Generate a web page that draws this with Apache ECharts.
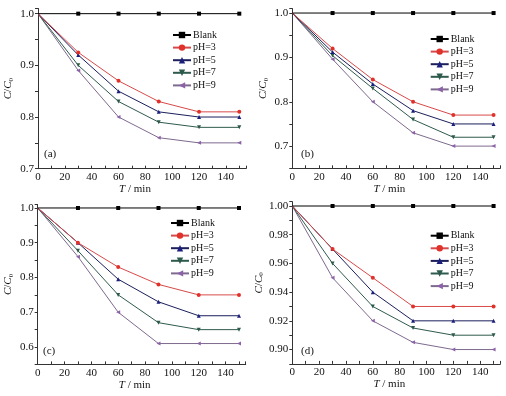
<!DOCTYPE html>
<html>
<head>
<meta charset="utf-8">
<script src="https://cdn.jsdelivr.net/npm/echarts@6/dist/echarts.min.js"></script>
<style>
html, body { margin: 0; padding: 0; background: #fff; }
#chart { width: 506px; height: 396px; }
</style>
</head>
<body>
<div id="chart"></div>
<script>
// time points (min)
var times = [0, 30, 60, 90, 120, 150];
var seriesNames = ['Blank', 'pH=3', 'pH=5', 'pH=7', 'pH=9'];
var panelLabels = ['(a)', '(b)', '(c)', '(d)'];

// C/C0 values, one array per series and panel
var blankA = [1.0, 1.0, 1.0, 1.0, 1.0, 1.0];
var ph3A = [1.0, 0.925, 0.87, 0.83, 0.81, 0.81];
var ph5A = [1.0, 0.92, 0.85, 0.81, 0.80, 0.80];
var ph7A = [1.0, 0.90, 0.83, 0.79, 0.78, 0.78];
var ph9A = [1.0, 0.89, 0.80, 0.76, 0.75, 0.75];

var blankB = [1.0, 1.0, 1.0, 1.0, 1.0, 1.0];
var ph3B = [1.0, 0.92, 0.85, 0.80, 0.77, 0.77];
var ph5B = [1.0, 0.912, 0.84, 0.78, 0.75, 0.75];
var ph7B = [1.0, 0.904, 0.83, 0.76, 0.72, 0.72];
var ph9B = [1.0, 0.896, 0.80, 0.73, 0.70, 0.70];

var blankC = [1.0, 1.0, 1.0, 1.0, 1.0, 1.0];
var ph3C = [1.0, 0.90, 0.83, 0.78, 0.75, 0.75];
var ph5C = [1.0, 0.90, 0.795, 0.73, 0.69, 0.69];
var ph7C = [1.0, 0.877, 0.75, 0.67, 0.65, 0.65];
var ph9C = [1.0, 0.86, 0.70, 0.61, 0.61, 0.61];

var blankD = [1.0, 1.0, 1.0, 1.0, 1.0, 1.0];
var ph3D = [1.0, 0.97, 0.95, 0.93, 0.93, 0.93];
var ph5D = [1.0, 0.97, 0.94, 0.92, 0.92, 0.92];
var ph7D = [1.0, 0.96, 0.93, 0.915, 0.91, 0.91];
var ph9D = [1.0, 0.95, 0.92, 0.905, 0.90, 0.90];

var panelData = [
    [blankA, ph3A, ph5A, ph7A, ph9A],
    [blankB, ph3B, ph5B, ph7B, ph9B],
    [blankC, ph3C, ph5C, ph7C, ph9C],
    [blankD, ph3D, ph5D, ph7D, ph9D]
];

var colors = ['#000000', '#e0312a', '#1b1f7c', '#2c5a4a', '#8b62a8'];
var lineColors = ['#000000', '#d84a4a', '#1b1f5c', '#2f5a4e', '#7e6a8e'];
var symbols = ['rect', 'circle', 'triangle', 'triangle', 'triangle'];
var rotates = [0, 0, 0, 180, 90];

// layout of each panel (pixels)
var panels = [
    { left: 38, top: 8.5, height: 160.2, ymin: 0.70, ymax: 1.01, step: 0.05, labelStep: 0.1, dec: 1, legendLeft: 172, legendTop: 29, tagX: 44, tagY: 149 },
    { left: 292.3, top: 8.6, height: 159.7, ymin: 0.65, ymax: 1.01, step: 0.05, labelStep: 0.1, dec: 1, legendLeft: 429.7, legendTop: 33, tagX: 301, tagY: 149 },
    { left: 37.7, top: 204.5, height: 159.9, ymin: 0.55, ymax: 1.01, step: 0.05, labelStep: 0.1, dec: 1, legendLeft: 170, legendTop: 217, tagX: 43, tagY: 346 },
    { left: 292.3, top: 201.7, height: 162.2, ymin: 0.89, ymax: 1.003, step: 0.01, labelStep: 0.02, dec: 2, legendLeft: 429.7, legendTop: 229.7, tagX: 301, tagY: 346 }
];

var fontFamily = '"Liberation Serif", "DejaVu Serif", serif';

var option = {
    animation: false,
    backgroundColor: '#fff',
    textStyle: { fontFamily: fontFamily, color: '#111' },
    grid: [], xAxis: [], yAxis: [], legend: [], series: [], graphic: []
};

panels.forEach(function (p, k) {
    option.grid.push({ left: p.left, top: p.top, width: 208, height: p.height });
    option.xAxis.push({
        type: 'value', gridIndex: k, min: 0, max: 155, interval: 10,
        name: '{i|T} / min', nameLocation: 'middle', nameGap: 14,
        nameTextStyle: { fontSize: 11, color: '#111', padding: [0, 14, 0, 0],
            rich: { i: { fontStyle: 'italic', fontSize: 11, fontFamily: fontFamily } } },
        axisLine: { lineStyle: { color: '#333', width: 1 } },
        axisTick: { inside: true, length: 3, lineStyle: { color: '#333' } },
        axisLabel: {
            fontSize: 11, color: '#111', margin: 3, fontFamily: fontFamily,
            formatter: function (v) { return (v % 20 === 0 && v <= 150) ? String(v) : ''; }
        },
        splitLine: { show: false }
    });
    option.yAxis.push({
        type: 'value', gridIndex: k, min: p.ymin, max: p.ymax, interval: p.step,
        name: '{i|C}/{i|C}{s|0}', nameLocation: 'middle', nameGap: 23,
        nameTextStyle: { fontSize: 11, color: '#111',
            rich: {
                i: { fontStyle: 'italic', fontSize: 11, fontFamily: fontFamily },
                s: { fontSize: 7, fontFamily: fontFamily, padding: [6, 0, 0, 0] }
            } },
        axisLine: { show: true, lineStyle: { color: '#333', width: 1 } },
        axisTick: { length: 3, lineStyle: { color: '#333' } },
        axisLabel: {
            fontSize: 11, color: '#111', margin: 4, fontFamily: fontFamily,
            formatter: function (v) {
                var r = v / p.labelStep;
                if (Math.abs(r - Math.round(r)) > 1e-6 || v > 1.0001) return '';
                return v.toFixed(p.dec);
            }
        },
        splitLine: { show: false }
    });
    option.legend.push({
        orient: 'vertical', left: p.legendLeft, top: p.legendTop, padding: 0,
        itemWidth: 18, itemHeight: 8, itemGap: 0.6,
        data: seriesNames,
        selectedMode: false,
        textStyle: { fontSize: 10, lineHeight: 12, color: '#111', fontFamily: fontFamily, padding: [0, 0, 0, -3] }
    });
    panelData[k].forEach(function (vals, s) {
        option.series.push({
            name: seriesNames[s], type: 'line',
            xAxisIndex: k, yAxisIndex: k,
            symbol: symbols[s], symbolSize: 4, symbolRotate: rotates[s],
            itemStyle: { color: colors[s] },
            lineStyle: { color: lineColors[s], width: 1 },
            z: 10 - s,
            data: times.map(function (t, i) {
                return i === 0 ? { value: [t, vals[i]], symbol: 'none' } : [t, vals[i]];
            })
        });
    });
    option.graphic.push({
        type: 'text', left: p.tagX, top: p.tagY,
        style: { text: panelLabels[k], fontSize: 11, fontFamily: fontFamily, fill: '#111' }
    });
});

var chart = echarts.init(document.getElementById('chart'));
chart.setOption(option);
</script>
</body>
</html>
